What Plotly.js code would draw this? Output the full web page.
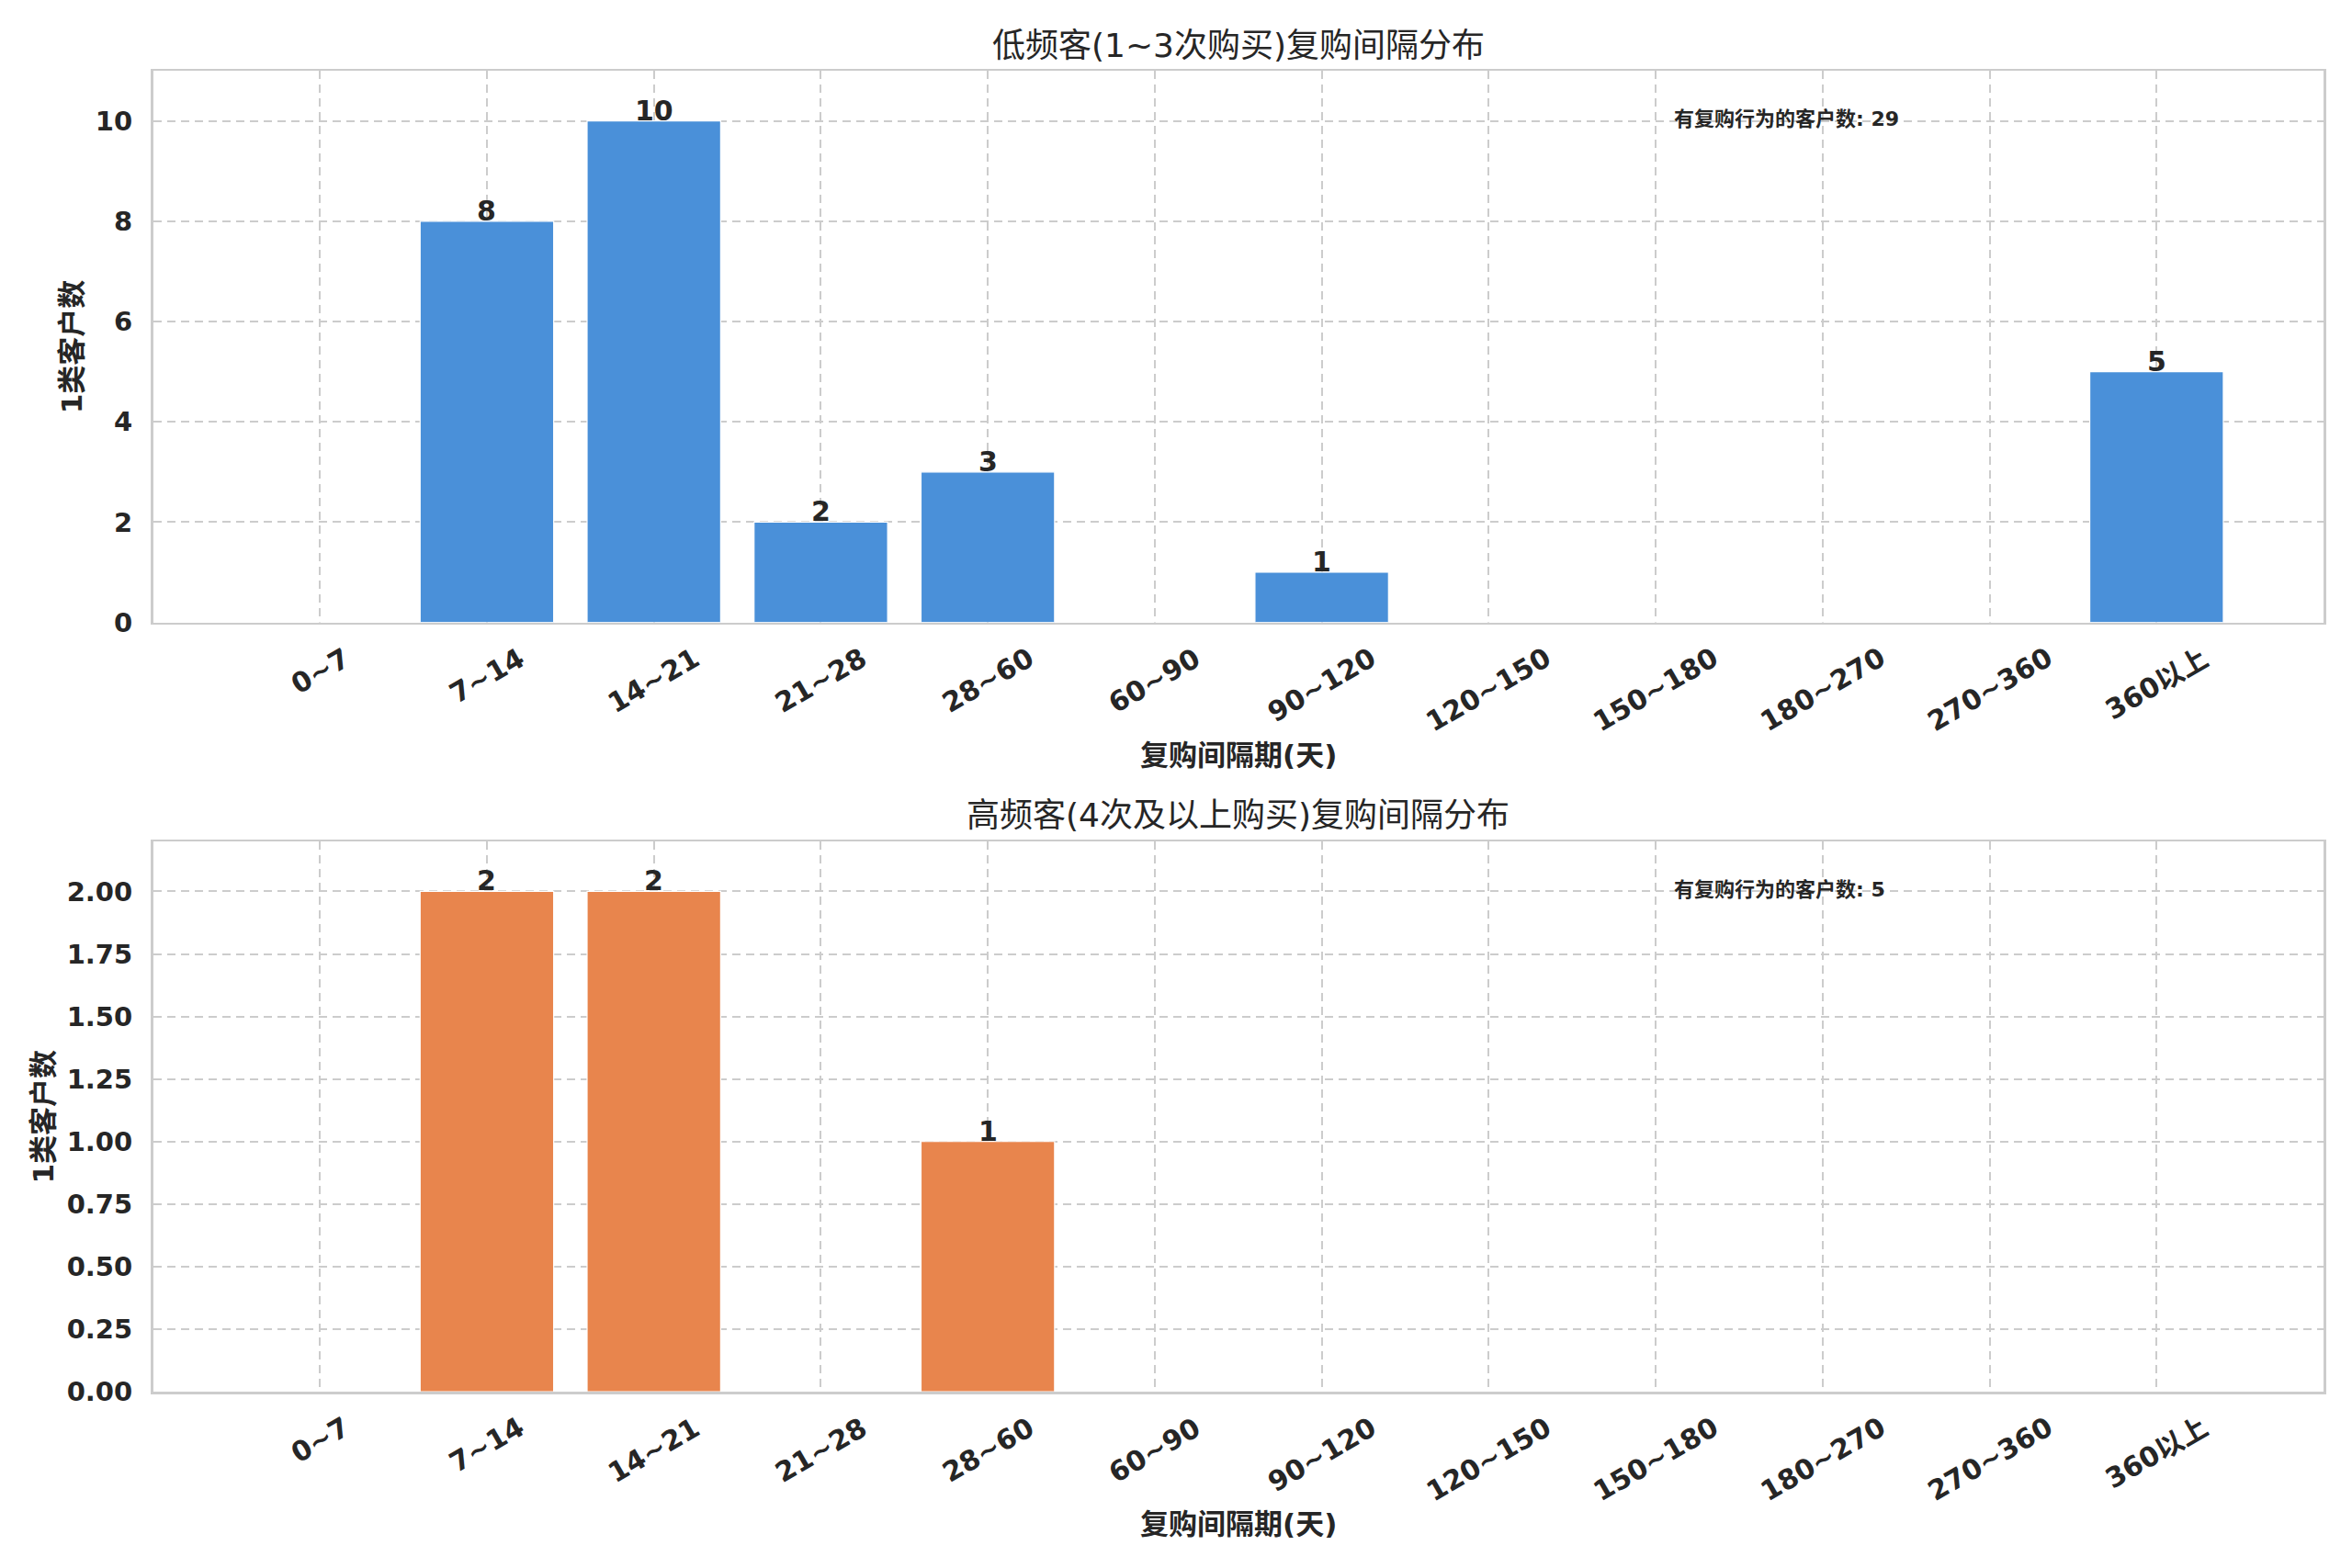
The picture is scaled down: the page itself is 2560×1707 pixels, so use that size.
<!DOCTYPE html>
<html>
<head>
<meta charset="utf-8">
<script src="https://cdn.plot.ly/plotly-3.0.1.min.js"></script>
<style>
  html, body { margin: 0; padding: 0; background: #ffffff; }
  #chart { width: 2560px; height: 1707px; }
</style>
</head>
<body>
<div id="chart"></div>
<script>
// Interval buckets (days) and counts per customer group
const categories = ['0~7', '7~14', '14~21', '21~28', '28~60', '60~90', '90~120',
    '120~150', '150~180', '180~270', '270~360', '360以上'];
const lowFreqCounts = [0, 8, 10, 2, 3, 0, 1, 0, 0, 0, 0, 5];
const highFreqCounts = [0, 2, 2, 0, 1, 0, 0, 0, 0, 0, 0, 0];
const lowFreqTotal = 29;
const highFreqTotal = 5;

const titles = ['低频客(1~3次购买)复购间隔分布', '高频客(4次及以上购买)复购间隔分布'];
const xTitle = '复购间隔期(天)';
const yTitle = '1类客户数';
const totalLabel = '有复购行为的客户数';

const W = 2560, H = 1707;
const FONT = 'DejaVu Sans, Noto Sans CJK SC, sans-serif';
const INK = '#262626';
const GRID = '#cccccc';
const BLUE = '#4a90d9';
const ORANGE = '#e8854d';

// pixel helpers -> paper fractions
const fx = px => px / W;
const fy = px => 1 - px / H;

const plotLeft = 166.5, plotRight = 2529;
const panels = [
    { top: 77, bottom: 677.6, titleY: 49, xlabY: 822, ylabX: 78 },
    { top: 916, bottom: 1515, titleY: 887, xlabY: 1659, ylabX: 46 },
];

function xAxis(anchor) {
    return {
        type: 'category',
        categoryorder: 'array',
        categoryarray: categories,
        range: [-1, 12],
        domain: [fx(plotLeft), fx(plotRight)],
        anchor: anchor,
        showgrid: true,
        gridcolor: GRID,
        gridwidth: 2,
        griddash: '9px,6px',
        showline: true,
        mirror: true,
        linecolor: GRID,
        linewidth: 2.5,
        showticklabels: false,
        ticks: '',
        zeroline: false,
    };
}

function yAxis(anchor, panel, range, dtick, fmt) {
    return {
        domain: [fy(panel.bottom), fy(panel.top)],
        anchor: anchor,
        range: range,
        dtick: dtick,
        tick0: 0,
        tickformat: fmt,
        showgrid: true,
        gridcolor: GRID,
        gridwidth: 2,
        griddash: '9px,6px',
        showline: true,
        mirror: true,
        linecolor: GRID,
        linewidth: 2.5,
        zeroline: false,
        ticks: '',
        ticklabelstandoff: 14,
        tickfont: { family: FONT, size: 29, color: INK, weight: 'bold' },
    };
}

function barTrace(values, color, xa, ya) {
    return {
        type: 'bar',
        x: categories,
        y: values,
        xaxis: xa,
        yaxis: ya,
        marker: { color: color, line: { color: '#ffffff', width: 1.2 } },
        hoverinfo: 'x+y',
    };
}

function panelAnnotations(panel, idx, values, total) {
    const xr = idx === 0 ? 'x' : 'x2';
    const yr = idx === 0 ? 'y' : 'y2';
    const anns = [];

    // subplot title
    anns.push({
        xref: 'paper', yref: 'paper',
        x: fx((plotLeft + plotRight) / 2), y: fy(panel.titleY),
        xanchor: 'center', yanchor: 'middle', showarrow: false,
        text: titles[idx],
        font: { family: FONT, size: 36, color: INK },
    });
    // x axis label
    anns.push({
        xref: 'paper', yref: 'paper',
        x: fx((plotLeft + plotRight) / 2), y: fy(panel.xlabY),
        xanchor: 'center', yanchor: 'middle', showarrow: false,
        text: xTitle,
        font: { family: FONT, size: 31, color: INK, weight: 'bold' },
    });
    // y axis label
    anns.push({
        xref: 'paper', yref: 'paper',
        x: fx(panel.ylabX), y: fy((panel.top + panel.bottom) / 2),
        xanchor: 'center', yanchor: 'middle', showarrow: false,
        textangle: -90,
        text: yTitle,
        font: { family: FONT, size: 31, color: INK, weight: 'bold' },
    });
    // total count note
    anns.push({
        xref: xr + ' domain', yref: yr + ' domain',
        x: 0.7, y: 0.913,
        xanchor: 'left', yanchor: 'middle', showarrow: false,
        text: `${totalLabel}: ${total}`,
        font: { family: FONT, size: 22, color: INK, weight: 'bold' },
    });
    // rotated category labels, centred under each tick
    categories.forEach(c => {
        anns.push({
            xref: xr, yref: yr + ' domain',
            x: c, y: 0, yshift: -18,
            xanchor: 'center', yanchor: 'top', showarrow: false,
            textangle: -30,
            text: c,
            font: { family: FONT, size: 30, color: INK, weight: 'bold' },
        });
    });
    // value labels on top of non-empty bars
    values.forEach((v, i) => {
        if (v <= 0) return;
        anns.push({
            xref: xr, yref: yr,
            x: categories[i], y: v, yshift: -8,
            xanchor: 'center', yanchor: 'bottom', showarrow: false,
            text: String(v),
            font: { family: FONT, size: 30, color: INK, weight: 'bold' },
        });
    });
    return anns;
}

const data = [
    barTrace(lowFreqCounts, BLUE, 'x', 'y'),
    barTrace(highFreqCounts, ORANGE, 'x2', 'y2'),
];

const layout = {
    width: W,
    height: H,
    margin: { l: 0, r: 0, t: 0, b: 0 },
    paper_bgcolor: '#ffffff',
    plot_bgcolor: '#ffffff',
    showlegend: false,
    bargap: 0.2,
    font: { family: FONT, color: INK },
    xaxis: xAxis('y'),
    yaxis: yAxis('x', panels[0], [0, 11], 2, 'd'),
    xaxis2: xAxis('y2'),
    yaxis2: yAxis('x2', panels[1], [0, 2.2], 0.25, '.2f'),
    annotations: [
        ...panelAnnotations(panels[0], 0, lowFreqCounts, lowFreqTotal),
        ...panelAnnotations(panels[1], 1, highFreqCounts, highFreqTotal),
    ],
};

Plotly.newPlot('chart', data, layout, { staticPlot: true });
</script>
</body>
</html>
